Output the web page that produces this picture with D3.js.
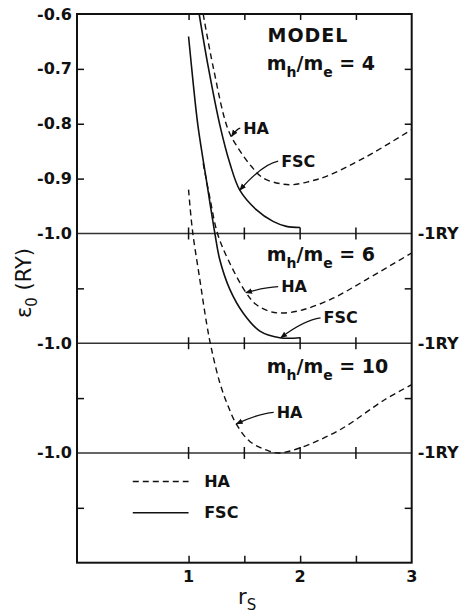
<!DOCTYPE html>
<html>
<head>
<meta charset="utf-8">
<script src="https://cdn.jsdelivr.net/npm/d3@7"></script>
<style>
  body { margin: 0; background: #fff; }
  svg text { font-family: "DejaVu Sans", sans-serif; font-weight: bold; fill: #111; }
  svg text.title { font-weight: normal; }
</style>
</head>
<body>
<div id="chart"></div>
<script>
// Ground-state energy vs r_s, three mass ratios stacked with a 0.2 Ry shift

// Data
// ---------------------------------------------------------
const massRatios = [4, 6, 10];
const panelShift = [0, 0.2, 0.4];

// [r_s, energy (Ry)] in each panel's own units
const ha4 = [[1.131, -0.600], [1.220, -0.696], [1.355, -0.811], [1.459, -0.849], [1.564, -0.878],
    [1.668, -0.899], [1.817, -0.909], [1.934, -0.911], [2.086, -0.905], [2.235, -0.896],
    [2.594, -0.860], [2.996, -0.811]];
const fsc4 = [[1.095, -0.600], [1.176, -0.696], [1.280, -0.802], [1.370, -0.872], [1.459, -0.921],
    [1.609, -0.957], [1.757, -0.978], [1.877, -0.987], [2.0, -0.989]];
const ha6 = [[1.131, -0.672], [1.191, -0.735], [1.258, -0.799], [1.355, -0.848], [1.519, -0.909],
    [1.609, -0.930], [1.728, -0.942], [1.847, -0.945], [2.026, -0.939], [2.295, -0.918],
    [2.594, -0.884], [2.996, -0.836]];
const fsc6 = [[1.0, -0.441], [1.041, -0.525], [1.083, -0.602], [1.159, -0.702], [1.235, -0.799],
    [1.280, -0.848], [1.370, -0.902], [1.489, -0.945], [1.639, -0.978], [1.817, -0.990], [2.0, -0.990]];
const ha10 = [[1.0, -0.520], [1.034, -0.593], [1.101, -0.684], [1.161, -0.763], [1.206, -0.811],
    [1.280, -0.872], [1.355, -0.915], [1.430, -0.948], [1.549, -0.979], [1.728, -0.997],
    [1.817, -1.000], [1.996, -0.991], [2.355, -0.958], [2.757, -0.903], [2.996, -0.876]];

const xTickValues = [1, 1.5, 2, 2.5];
const xLabelValues = [1, 2, 3];
const yTickValues = [-0.7, -0.8, -0.9, -1.1, -1.3, -1.5];
const yLabelValues = [-0.6, -0.7, -0.8, -0.9, -1.0, -1.2, -1.4];
const yLabelTexts = ["-0.6", "-0.7", "-0.8", "-0.9", "-1.0", "-1.0", "-1.0"];
const zeroLines = [-1.0, -1.2, -1.4];

// annotation: panel, text, label r_s/e, arrow target r_s/e
const notes = [
    {panel: 0, text: "HA", lx: 1.49, ly: -0.808, tx: 1.385, ty: -0.823},
    {panel: 0, text: "FSC", lx: 1.83, ly: -0.868, tx: 1.459, ty: -0.921},
    {panel: 1, text: "HA", lx: 1.83, ly: -0.897, tx: 1.513, ty: -0.908},
    {panel: 1, text: "FSC", lx: 2.21, ly: -0.954, tx: 1.826, ty: -0.990},
    {panel: 2, text: "HA", lx: 1.79, ly: -0.926, tx: 1.428, ty: -0.947}
];

const series = [
    {panel: 0, kind: "HA", values: ha4},
    {panel: 0, kind: "FSC", values: fsc4},
    {panel: 1, kind: "HA", values: ha6},
    {panel: 1, kind: "FSC", values: fsc6},
    {panel: 2, kind: "HA", values: ha10}
];

// Layout
// ---------------------------------------------------------
const width = 461, height = 614;
const plotLeft = 77, plotRight = 411.7, plotTop = 14, plotBottom = 562.7;
const tickColor = "#111";

const x = d3.scaleLinear().domain([0, 3]).range([plotLeft, plotRight]);
const y = d3.scaleLinear().domain([-0.6, -1.6]).range([plotTop, plotBottom]);

const svg = d3.select("#chart").append("svg")
    .attr("width", width)
    .attr("height", height);

const defs = svg.append("defs");

defs.append("clipPath").attr("id", "plotClip")
    .append("rect")
    .attr("x", plotLeft).attr("y", plotTop)
    .attr("width", plotRight - plotLeft).attr("height", plotBottom - plotTop);

defs.append("marker")
    .attr("id", "arrow")
    .attr("viewBox", "0 0 10 10")
    .attr("refX", 9).attr("refY", 5)
    .attr("markerWidth", 7).attr("markerHeight", 7)
    .attr("markerUnits", "userSpaceOnUse")
    .attr("orient", "auto")
    .append("path")
    .attr("d", "M0,1 L10,5 L0,9 Z")
    .attr("fill", "#111");

// Panel divider lines and their ticks
// ---------------------------------------------------------
svg.selectAll(".zeroLine")
    .data(zeroLines)
    .enter().append("line")
    .attr("class", "zeroLine")
    .attr("x1", plotLeft).attr("x2", plotRight)
    .attr("y1", d => y(d)).attr("y2", d => y(d))
    .attr("stroke", "#333")
    .attr("stroke-width", 1.4);

zeroLines.forEach(v => {
    svg.append("g").selectAll("line")
        .data(xTickValues)
        .enter().append("line")
        .attr("x1", d => x(d)).attr("x2", d => x(d))
        .attr("y1", y(v) - 6).attr("y2", y(v) + 6)
        .attr("stroke", tickColor)
        .attr("stroke-width", 1.5);
});

// Axes
// ---------------------------------------------------------
const yLeft = svg.append("g")
    .attr("transform", `translate(${plotLeft},0)`)
    .call(d3.axisLeft(y).tickValues(yTickValues).tickSize(-7).tickFormat(""));

const yRight = svg.append("g")
    .attr("transform", `translate(${plotRight},0)`)
    .call(d3.axisRight(y).tickValues(yTickValues).tickSize(-7).tickFormat(""));

const xTop = svg.append("g")
    .attr("transform", `translate(0,${plotTop})`)
    .call(d3.axisTop(x).tickValues(xTickValues).tickSize(-6).tickFormat(""));

const xBottom = svg.append("g")
    .attr("transform", `translate(0,${plotBottom})`)
    .call(d3.axisBottom(x).tickValues(xTickValues).tickSize(-7).tickFormat(""));

[yLeft, yRight, xTop, xBottom].forEach(g => {
    g.select(".domain").remove();
    g.selectAll(".tick line").attr("stroke", tickColor).attr("stroke-width", 1.5);
});

// frame
svg.append("rect")
    .attr("x", plotLeft).attr("y", plotTop)
    .attr("width", plotRight - plotLeft).attr("height", plotBottom - plotTop)
    .attr("fill", "none")
    .attr("stroke", "#111")
    .attr("stroke-width", 2);

// tick labels
svg.selectAll(".yLabel")
    .data(yLabelValues)
    .enter().append("text")
    .attr("class", "yLabel")
    .attr("x", plotLeft - 5)
    .attr("y", d => y(d))
    .attr("text-anchor", "end")
    .attr("dominant-baseline", "central")
    .attr("font-size", 16)
    .text((d, i) => yLabelTexts[i]);

svg.selectAll(".ryLabel")
    .data(zeroLines)
    .enter().append("text")
    .attr("class", "ryLabel")
    .attr("x", plotRight + 6)
    .attr("y", d => y(d))
    .attr("dominant-baseline", "central")
    .attr("font-size", 16)
    .text("-1RY");

svg.selectAll(".xLabel")
    .data(xLabelValues)
    .enter().append("text")
    .attr("class", "xLabel")
    .attr("x", d => x(d))
    .attr("y", plotBottom + 19)
    .attr("text-anchor", "middle")
    .attr("font-size", 16)
    .text(d => d);

// axis titles
const xTitle = svg.append("text")
    .attr("class", "title")
    .attr("x", 238).attr("y", 604)
    .attr("font-size", 21);
xTitle.append("tspan").text("r");
xTitle.append("tspan").attr("dy", 6).attr("font-size", 15).text("S");

const yTitle = svg.append("text")
    .attr("class", "title")
    .attr("transform", "translate(31,283) rotate(-90)")
    .attr("text-anchor", "middle")
    .attr("font-size", 21);
yTitle.append("tspan").text("\u03b5");
yTitle.append("tspan").attr("dy", 6).attr("font-size", 15).text("0");
yTitle.append("tspan").attr("dy", -6).text(" (RY)");

// Curves
// ---------------------------------------------------------
const lineGen = shift => d3.line()
    .x(d => x(d[0]))
    .y(d => y(d[1] - shift))
    .curve(d3.curveCatmullRom.alpha(0.5));

svg.append("g").attr("clip-path", "url(#plotClip)")
    .selectAll(".curve")
    .data(series)
    .enter().append("path")
    .attr("class", "curve")
    .attr("d", d => lineGen(panelShift[d.panel])(d.values))
    .attr("fill", "none")
    .attr("stroke", "#111")
    .attr("stroke-width", d => d.kind === "HA" ? 1.4 : 1.6)
    .attr("stroke-dasharray", d => d.kind === "HA" ? "6,4" : null);

// Panel titles
// ---------------------------------------------------------
svg.append("text")
    .attr("x", x(2.07)).attr("y", y(-0.651))
    .attr("text-anchor", "middle")
    .attr("font-size", 19)
    .attr("letter-spacing", 1)
    .text("MODEL");

const titleE = [-0.702, -0.851, -0.855];
massRatios.forEach((m, i) => {
    const t = svg.append("text")
        .attr("x", x(1.70))
        .attr("y", y(titleE[i] - panelShift[i]))
        .attr("font-size", 19);
    t.append("tspan").text("m");
    t.append("tspan").attr("dy", 7).attr("font-size", 14).text("h");
    t.append("tspan").attr("dy", -7).text("/m");
    t.append("tspan").attr("dy", 7).attr("font-size", 14).text("e");
    t.append("tspan").attr("dy", -7).text(" = " + m);
});

// Annotations
// ---------------------------------------------------------
notes.forEach(n => {
    const s = panelShift[n.panel];
    const sx = x(n.lx) - 3, sy = y(n.ly - s);
    const tx = x(n.tx), ty = y(n.ty - s);
    const cx = tx + 0.6 * (sx - tx), cy = sy + 0.1 * (ty - sy);
    svg.append("path")
        .attr("d", `M${sx},${sy} Q${cx},${cy} ${tx},${ty}`)
        .attr("fill", "none")
        .attr("stroke", "#111")
        .attr("stroke-width", 1.3)
        .attr("marker-end", "url(#arrow)");
    svg.append("text")
        .attr("x", x(n.lx)).attr("y", sy)
        .attr("dominant-baseline", "central")
        .attr("font-size", 16)
        .text(n.text);
});

// Legend
// ---------------------------------------------------------
const legendItems = [
    {kind: "HA", e: -1.452},
    {kind: "FSC", e: -1.509}
];

svg.selectAll(".legendLine")
    .data(legendItems)
    .enter().append("line")
    .attr("class", "legendLine")
    .attr("x1", x(0.5)).attr("x2", x(1.0))
    .attr("y1", d => y(d.e)).attr("y2", d => y(d.e))
    .attr("stroke", "#111")
    .attr("stroke-width", 1.4)
    .attr("stroke-dasharray", d => d.kind === "HA" ? "6,4" : null);

svg.selectAll(".legendText")
    .data(legendItems)
    .enter().append("text")
    .attr("class", "legendText")
    .attr("x", x(1.14))
    .attr("y", d => y(d.e))
    .attr("dominant-baseline", "central")
    .attr("font-size", 16)
    .text(d => d.kind);
</script>
</body>
</html>
